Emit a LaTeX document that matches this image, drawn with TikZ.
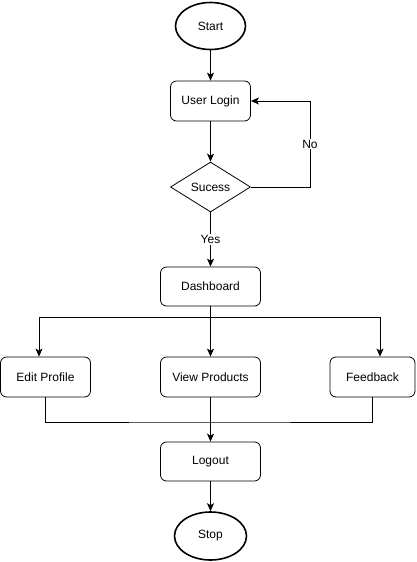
\documentclass[tikz,border=0pt]{standalone}
\usepackage{fontspec}
\setmainfont{Liberation Sans}
\usetikzlibrary{arrows.meta,shapes.geometric}

\begin{document}
\begin{tikzpicture}[x=1pt,y=-1pt,
        every node/.style={font=\fontsize{12}{14}\selectfont, inner sep=0pt},
        terminal/.style={ellipse, draw, line width=1.6pt, minimum width=70pt, minimum height=47pt},
        stepbox/.style={rectangle, draw, rounded corners=6pt, line width=0.8pt, minimum height=40pt},
        decision/.style={diamond, draw, line width=0.8pt, minimum width=80pt, minimum height=50pt, aspect=1.6},
        flow/.style={line width=0.8pt, -{Stealth[length=8pt,width=7pt,inset=2pt]}},
        wire/.style={line width=0.8pt},
        tag/.style={fill=white, inner sep=1pt}]
    \useasboundingbox (0,0) rectangle (416,562);
    \node[terminal] (start) at (210.5,26) {Start};
    \node[stepbox, minimum width=80pt] (login) at (210.5,101) {User Login};
    \node[decision] (sucess) at (210.5,187) {Sucess};
    \node[stepbox, minimum width=100pt, minimum height=39pt] (dash) at (210.5,286.5) {Dashboard};
    \node[stepbox, minimum width=90pt] (edit) at (45.5,377) {Edit Profile};
    \node[stepbox, minimum width=100pt] (view) at (210.5,377) {View Products};
    \node[stepbox, minimum width=85pt] (feed) at (372.5,377) {Feedback};
    \node[stepbox, minimum width=100pt, minimum height=39pt] (logout) at (210.5,461.5) {Logout};
    \node[terminal, minimum width=72pt, minimum height=48pt] (stop) at (210.5,536) {Stop};
    \coordinate (back) at (310,187);
    \coordinate (split) at (210.5,317);
    \coordinate (merge) at (210.5,422);

    \draw[flow] (start) -- (login);
    \draw[flow] (login) -- (sucess);
    \draw[flow] (sucess.east) -- (back) |- node[tag, pos=0.25] {No} (login.east);
    \draw[flow] (sucess) -- node[tag] {Yes} (dash);
    \draw[wire] (dash) -- (split);
    \draw[flow] (split) -| ([xshift=-6.5pt]edit.north);
    \draw[flow] (split) -- (view);
    \draw[flow] (split) -| ([xshift=7.5pt]feed.north);
    \draw[wire] (edit.south) |- (merge) -| (feed.south);
    \draw[flow] (view) -- (logout);
    \draw[flow] (logout) -- (stop);
\end{tikzpicture}
\end{document}
